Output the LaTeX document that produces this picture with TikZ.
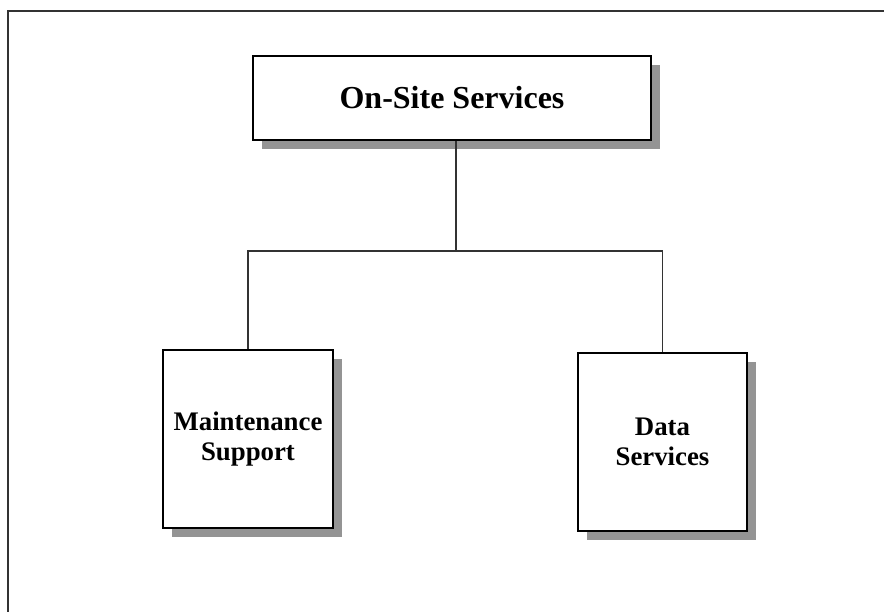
\documentclass[tikz,border=0pt]{standalone}
\usepackage{fontspec}
\setmainfont{Liberation Serif}
\usetikzlibrary{shadows}
\definecolor{shadowgray}{HTML}{949494}
\definecolor{linegray}{HTML}{333333}

\tikzset{
  unitbox/.style={draw=black, line width=1.3pt, fill=white, align=center,
    inner sep=0pt, font=\bfseries\fontsize{26.8}{30}\selectfont,
    drop shadow={shadow xshift=9pt, shadow yshift=-9pt, fill=shadowgray, opacity=1}},
  link/.style={draw=linegray, line width=1.3pt}
}

\begin{document}
\begin{tikzpicture}[x=1pt,y=-1pt]
              \useasboundingbox (0,0) rectangle (884,612);
              % outer frame, runs off the right and bottom edges
              \draw[linegray, line width=1.6pt] (884,11) -- (8,11) -- (8,612);

              \node[unitbox, minimum width=398pt, minimum height=84pt,
                    font=\bfseries\fontsize{32}{34}\selectfont] (onsite) at (452,98) {On-Site Services};
              \node[unitbox, minimum width=170pt, minimum height=178pt] (maint) at (248,439) {Maintenance\\Support};
              \node[unitbox, minimum width=169pt, minimum height=178pt] (data) at (662.5,442) {Data\\Services};

              \coordinate (bus) at (456,251);
              \draw[link] (onsite.south -| bus) -- (bus);
              \draw[link] (maint.north) -- (maint.north |- bus) -- (data.north |- bus) -- (data.north);

            \end{tikzpicture}
\end{document}
